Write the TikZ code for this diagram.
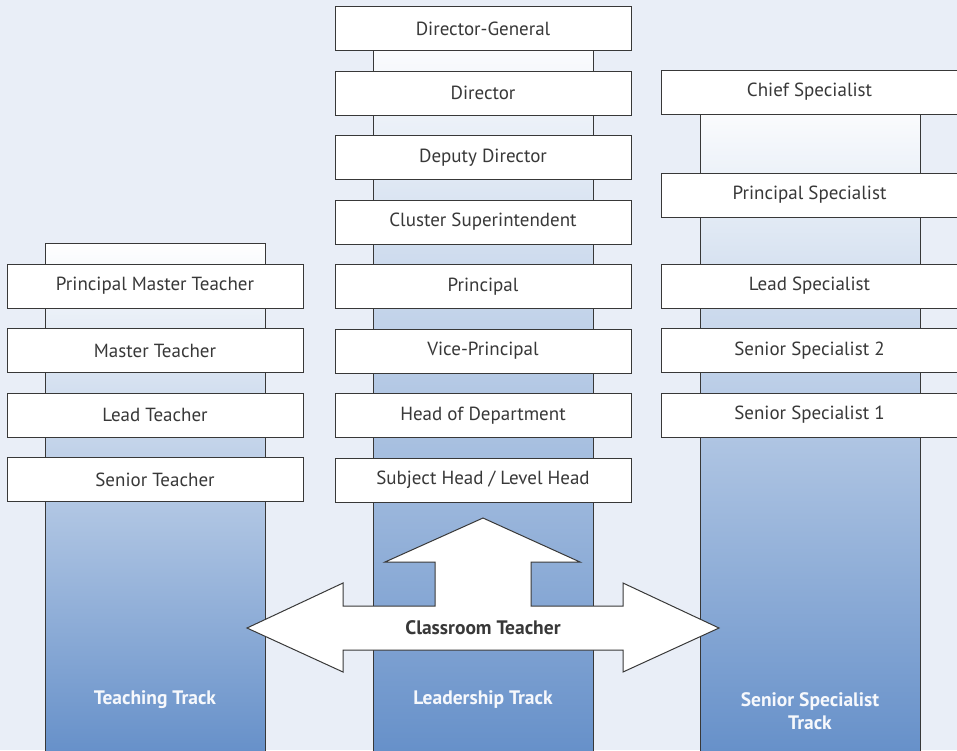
\documentclass[tikz,border=0pt]{standalone}
\usepackage{fontspec}
\setmainfont{PT Sans}
\usepackage{tikz}
\usetikzlibrary{shapes.geometric, arrows}
\definecolor{bgblue}{HTML}{E9EEF7}
\definecolor{barblue}{HTML}{6690C9}
\definecolor{txtgray}{HTML}{383838}
\tikzstyle{rank} = [rectangle, minimum width=296pt, minimum height=44pt, text centered, draw=txtgray, fill=white, text=txtgray, font=\fontsize{19}{22}\selectfont]
\tikzstyle{bar} = [draw=txtgray, top color=white, middle color=barblue!58!white, bottom color=barblue]
\tikzstyle{track} = [text=white!94!barblue, align=center, font=\fontsize{19.5}{23}\selectfont\bfseries]
\tikzstyle{bigarrow} = [draw=txtgray, fill=white, line join=miter]

\begin{document}
\begin{tikzpicture}[x=1pt, y=-1pt, node distance=64.5pt, line width=1pt]
   \fill[bgblue] (0,0) rectangle (957,750);
   \useasboundingbox (0,0) rectangle (957,750);
   % the three tracks
   \draw[bar] (45,243) rectangle (265,754);
   \draw[bar] (373,28) rectangle (593,754);
   \draw[bar] (700,92) rectangle (920,754);
   % teaching track
   \node (pmt) [rank] at (155,286) {Principal Master Teacher};
   \node (mt) [rank, below of=pmt] {Master Teacher};
   \node (lt) [rank, below of=mt] {Lead Teacher};
   \node (st) [rank, below of=lt] {Senior Teacher};
   % leadership track
   \node (dg) [rank] at (483,28.5) {Director-General};
   \node (dir) [rank, below of=dg] {Director};
   \node (ddir) [rank, below of=dir] {Deputy Director};
   \node (cs) [rank, below of=ddir] {Cluster Superintendent};
   \node (prin) [rank, below of=cs] {Principal};
   \node (vp) [rank, below of=prin] {Vice-Principal};
   \node (hod) [rank, below of=vp] {Head of Department};
   \node (sh) [rank, below of=hod] {Subject Head / Level Head};
   % senior specialist track
   \node (chief) [rank] at (809.5,92) {Chief Specialist};
   \node (ps) [rank] at (809.5,195) {Principal Specialist};
   \node (ls) [rank] at (809.5,286) {Lead Specialist};
   \node (ss2) [rank, below of=ls] {Senior Specialist 2};
   \node (ss1) [rank, below of=ss2] {Senior Specialist 1};
   % classroom teacher arrows
   \draw[bigarrow] (247,628) -- (343,583) -- (343,606) -- (435,606) -- (435,562) -- (385,562) -- (483,518) -- (580,562) -- (531,562) -- (531,606) -- (623,606) -- (623,583) -- (719,628) -- (623,672) -- (623,650) -- (343,650) -- (343,672) -- cycle;
   \node (ct) [text=txtgray, font=\fontsize{19.5}{22}\selectfont\bfseries] at (483,628) {Classroom Teacher};
   % track names
   \node (tt) [track] at (155,700) {Teaching Track};
   \node (lst) [track] at (483,700) {Leadership Track};
   \node (sst) [track] at (810,711) {Senior Specialist\\Track};
\end{tikzpicture}
\end{document}
